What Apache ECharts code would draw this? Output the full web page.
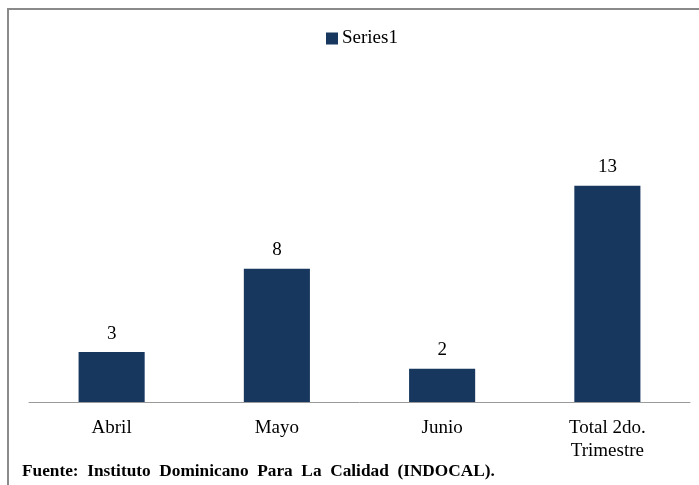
<!DOCTYPE html>
<html><head><meta charset="utf-8">
<script src="https://cdn.jsdelivr.net/npm/echarts@6/dist/echarts.min.js"></script>
<style>html,body{margin:0;padding:0;background:#fff}#c{width:699px;height:485px}</style>
</head><body><div id="c"></div>
<script>
var categories = ['Abril', 'Mayo', 'Junio', 'Total 2do.\nTrimestre'];
var seriesName = 'Series1';
var values = [3, 8, 2, 13];
var sourceText = 'Fuente:  Instituto  Dominicano  Para  La  Calidad  (INDOCAL).';

var serif = '"Liberation Serif", "Times New Roman", serif';
var chart = echarts.init(document.getElementById('c'));
chart.setOption({
  backgroundColor: '#fff',
  animation: false,
  graphic: [
    {type: 'rect', shape: {x: 8, y: 9, width: 720, height: 520}, style: {fill: 'none', stroke: '#8a8a8a', lineWidth: 2}, z: 0},
    {type: 'text', left: 22, top: 463, style: {text: sourceText, font: 'bold 17.3px ' + serif, fill: '#000'}}
  ],
  legend: {
    data: [seriesName], left: 326, top: 29, padding: 0, icon: 'rect', itemWidth: 12, itemHeight: 12, itemGap: 5,
    textStyle: {fontFamily: serif, fontSize: 19, color: '#000', padding: [0, 0, 0, -1]}
  },
  grid: {left: 29, right: 9, top: 169, bottom: 83, containLabel: false},
  xAxis: {
    type: 'category', data: categories,
    axisLine: {lineStyle: {color: '#9a9a9a', width: 1}},
    axisTick: {show: false},
    axisLabel: {fontFamily: serif, fontSize: 19, color: '#000', margin: 15, lineHeight: 23, interval: 0}
  },
  yAxis: {type: 'value', min: 0, max: 14, show: false, splitLine: {show: false}},
  series: [{
    name: seriesName, type: 'bar', data: values, barWidth: '40%',
    itemStyle: {color: '#17375E'},
    label: {show: true, position: 'top', distance: 9, fontFamily: serif, fontSize: 19, color: '#000'}
  }]
});
</script></body></html>
